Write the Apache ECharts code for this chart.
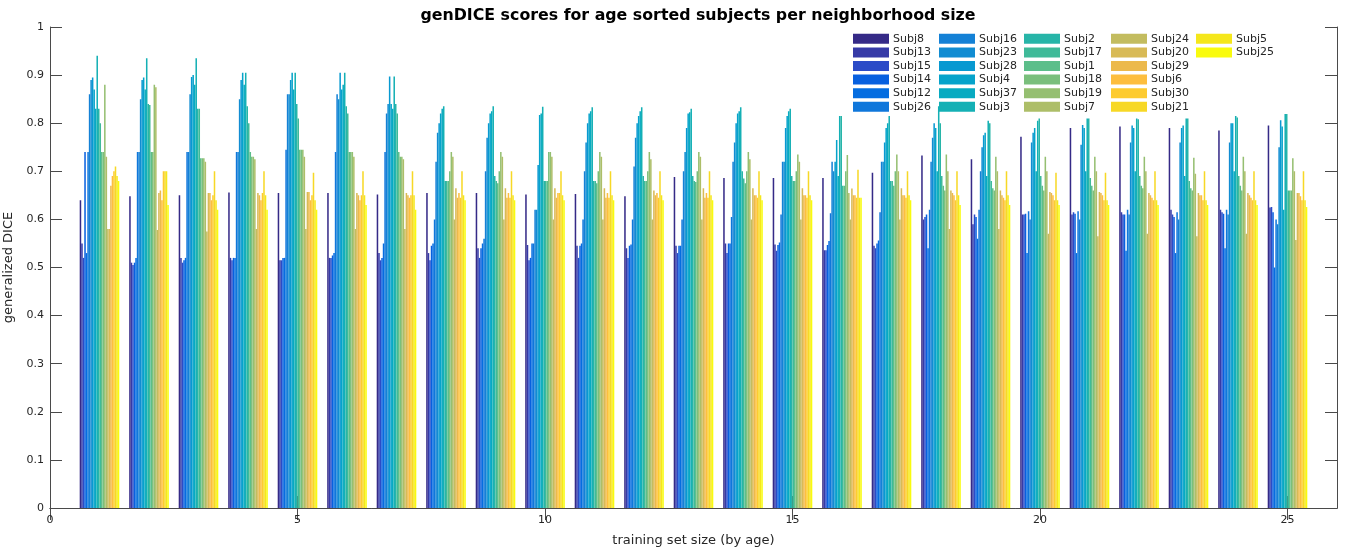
<!DOCTYPE html>
<html>
<head>
<meta charset="utf-8">
<script src="https://cdn.jsdelivr.net/npm/echarts@6/dist/echarts.min.js"></script>
<style>
html,body{margin:0;padding:0;background:#fff;}
#chart{width:1350px;height:553px;}
</style>
</head>
<body>
<div id="chart"></div>
<script>
// ---------------- DATA ----------------
const titleText = 'genDICE scores for age sorted subjects per neighborhood size';
const xName = 'training set size (by age)';
const yName = 'generalized DICE';
const sizes = [1,2,3,4,5,6,7,8,9,10,11,12,13,14,15,16,17,18,19,20,21,22,23,24,25];
const xTickLabels = ['0','5','10','15','20','25'];
const yTicks = [0,0.1,0.2,0.3,0.4,0.5,0.6,0.7,0.8,0.9,1];
const subjects = ['Subj8','Subj13','Subj15','Subj14','Subj12','Subj26','Subj16','Subj23','Subj28','Subj4','Subj37','Subj3','Subj2','Subj17','Subj1','Subj18','Subj19','Subj7','Subj24','Subj20','Subj29','Subj6','Subj30','Subj21','Subj5','Subj25'];

const subj8  = [0.640,0.648,0.650,0.656,0.655,0.655,0.652,0.655,0.655,0.652,0.653,0.648,0.688,0.686,0.686,0.686,0.697,0.733,0.725,0.772,0.790,0.793,0.790,0.785,0.795];
const subj13 = [0.550,0.510,0.520,0.520,0.515,0.520,0.530,0.530,0.540,0.547,0.545,0.540,0.545,0.550,0.548,0.536,0.545,0.600,0.590,0.610,0.610,0.615,0.620,0.620,0.625];
const subj15 = [0.520,0.505,0.510,0.515,0.515,0.520,0.515,0.515,0.520,0.515,0.520,0.520,0.530,0.530,0.535,0.536,0.540,0.605,0.610,0.610,0.615,0.610,0.610,0.615,0.626];
const subj14 = [0.740,0.510,0.515,0.520,0.520,0.525,0.520,0.545,0.540,0.520,0.545,0.545,0.545,0.550,0.547,0.547,0.550,0.610,0.605,0.612,0.612,0.610,0.605,0.612,0.615];
const subj12 = [0.530,0.520,0.520,0.520,0.520,0.530,0.550,0.550,0.550,0.550,0.550,0.548,0.545,0.550,0.552,0.555,0.556,0.540,0.560,0.530,0.530,0.535,0.530,0.540,0.500];
const subj26 = [0.740,0.740,0.740,0.740,0.745,0.740,0.740,0.600,0.560,0.550,0.600,0.600,0.600,0.605,0.610,0.613,0.615,0.620,0.620,0.617,0.617,0.620,0.615,0.620,0.600];
const subj16 = [0.860,0.740,0.740,0.740,0.860,0.860,0.820,0.720,0.700,0.620,0.700,0.710,0.700,0.720,0.720,0.720,0.720,0.720,0.700,0.600,0.600,0.610,0.600,0.610,0.590];
const subj23 = [0.890,0.850,0.860,0.850,0.860,0.850,0.840,0.780,0.770,0.620,0.760,0.770,0.740,0.760,0.720,0.700,0.720,0.770,0.750,0.760,0.755,0.760,0.760,0.760,0.750];
const subj28 = [0.895,0.890,0.896,0.890,0.890,0.905,0.897,0.800,0.800,0.713,0.800,0.800,0.790,0.800,0.790,0.720,0.760,0.800,0.775,0.780,0.796,0.795,0.790,0.800,0.806];
const subj4  = [0.870,0.895,0.900,0.905,0.905,0.870,0.840,0.820,0.820,0.817,0.820,0.815,0.820,0.820,0.815,0.765,0.790,0.790,0.780,0.790,0.790,0.790,0.795,0.800,0.793];
const subj37 = [0.830,0.870,0.880,0.880,0.870,0.880,0.830,0.830,0.825,0.820,0.825,0.825,0.823,0.825,0.825,0.690,0.800,0.700,0.690,0.700,0.700,0.700,0.690,0.700,0.620];
const subj3  = [0.940,0.935,0.935,0.905,0.905,0.905,0.897,0.835,0.835,0.834,0.833,0.833,0.830,0.833,0.830,0.815,0.815,0.835,0.805,0.805,0.810,0.810,0.810,0.815,0.819];
const subj2  = [0.830,0.840,0.830,0.835,0.840,0.835,0.840,0.680,0.690,0.680,0.680,0.690,0.690,0.700,0.690,0.815,0.680,0.800,0.800,0.810,0.810,0.808,0.810,0.812,0.819];
const subj17 = [0.800,0.838,0.830,0.800,0.810,0.820,0.820,0.680,0.680,0.680,0.680,0.680,0.680,0.685,0.680,0.670,0.680,0.690,0.680,0.690,0.686,0.690,0.680,0.690,0.660];
const subj1  = [0.740,0.740,0.727,0.740,0.745,0.740,0.740,0.680,0.675,0.680,0.675,0.680,0.678,0.675,0.680,0.670,0.670,0.670,0.665,0.670,0.670,0.670,0.665,0.670,0.660];
const subj18 = [0.740,0.740,0.727,0.730,0.745,0.740,0.730,0.700,0.700,0.740,0.700,0.700,0.700,0.700,0.700,0.700,0.700,0.660,0.660,0.660,0.660,0.665,0.660,0.660,0.660];
const subj19 = [0.880,0.880,0.727,0.730,0.745,0.740,0.730,0.740,0.740,0.740,0.740,0.740,0.740,0.740,0.735,0.734,0.735,0.735,0.730,0.730,0.730,0.730,0.728,0.730,0.727];
const subj7  = [0.730,0.875,0.720,0.725,0.730,0.730,0.725,0.730,0.730,0.730,0.730,0.725,0.730,0.725,0.720,0.655,0.700,0.700,0.700,0.700,0.700,0.700,0.695,0.700,0.700];
const subj24 = [0.580,0.578,0.575,0.580,0.580,0.580,0.580,0.600,0.600,0.600,0.600,0.600,0.600,0.600,0.600,0.600,0.600,0.580,0.580,0.570,0.565,0.570,0.565,0.570,0.557];
const subj20 = [0.580,0.655,0.655,0.655,0.657,0.655,0.655,0.665,0.665,0.665,0.665,0.660,0.665,0.665,0.665,0.664,0.665,0.660,0.660,0.657,0.657,0.655,0.655,0.655,0.655];
const subj29 = [0.670,0.660,0.655,0.650,0.657,0.650,0.650,0.645,0.645,0.645,0.645,0.650,0.645,0.650,0.650,0.650,0.650,0.655,0.650,0.655,0.655,0.650,0.650,0.650,0.655];
const subj6  = [0.690,0.640,0.640,0.640,0.640,0.640,0.645,0.655,0.655,0.655,0.655,0.655,0.655,0.650,0.650,0.650,0.650,0.650,0.645,0.650,0.650,0.645,0.650,0.645,0.648];
const subj30 = [0.700,0.700,0.650,0.655,0.650,0.650,0.650,0.645,0.645,0.655,0.645,0.645,0.645,0.645,0.645,0.645,0.645,0.640,0.640,0.640,0.640,0.640,0.640,0.640,0.640];
const subj21 = [0.710,0.700,0.700,0.700,0.697,0.700,0.700,0.700,0.700,0.700,0.700,0.700,0.700,0.700,0.700,0.703,0.700,0.700,0.700,0.697,0.697,0.700,0.700,0.700,0.700];
const subj5  = [0.690,0.700,0.640,0.650,0.640,0.650,0.650,0.650,0.650,0.650,0.650,0.650,0.650,0.650,0.650,0.645,0.650,0.650,0.650,0.640,0.640,0.640,0.640,0.640,0.640];
const subj25 = [0.680,0.630,0.620,0.620,0.620,0.630,0.620,0.640,0.640,0.640,0.640,0.640,0.640,0.640,0.640,0.645,0.640,0.630,0.630,0.630,0.630,0.630,0.630,0.630,0.626];

const seriesValues = [subj8,subj13,subj15,subj14,subj12,subj26,subj16,subj23,subj28,subj4,subj37,subj3,subj2,subj17,subj1,subj18,subj19,subj7,subj24,subj20,subj29,subj6,subj30,subj21,subj5,subj25];

// ---------------- STYLE ----------------
const parula64 = [
[0.2081,0.1663,0.5292],[0.2116,0.1898,0.5777],[0.2123,0.2138,0.6270],[0.2081,0.2386,0.6771],[0.1959,0.2645,0.7279],[0.1707,0.2919,0.7792],[0.1253,0.3242,0.8303],[0.0591,0.3598,0.8683],
[0.0117,0.3875,0.8820],[0.0060,0.4086,0.8828],[0.0165,0.4266,0.8786],[0.0329,0.4430,0.8720],[0.0498,0.4586,0.8641],[0.0629,0.4737,0.8554],[0.0723,0.4887,0.8467],[0.0779,0.5040,0.8384],
[0.0793,0.5200,0.8312],[0.0749,0.5375,0.8263],[0.0641,0.5570,0.8240],[0.0488,0.5772,0.8228],[0.0343,0.5966,0.8199],[0.0265,0.6137,0.8135],[0.0239,0.6287,0.8038],[0.0231,0.6418,0.7913],
[0.0228,0.6535,0.7768],[0.0267,0.6642,0.7607],[0.0384,0.6743,0.7436],[0.0590,0.6838,0.7254],[0.0843,0.6928,0.7062],[0.1133,0.7015,0.6859],[0.1453,0.7098,0.6646],[0.1801,0.7177,0.6424],
[0.2178,0.7250,0.6193],[0.2586,0.7317,0.5954],[0.3022,0.7376,0.5712],[0.3482,0.7424,0.5473],[0.3953,0.7459,0.5244],[0.4420,0.7481,0.5033],[0.4871,0.7491,0.4840],[0.5300,0.7491,0.4661],
[0.5709,0.7485,0.4494],[0.6099,0.7473,0.4337],[0.6473,0.7456,0.4188],[0.6834,0.7435,0.4044],[0.7184,0.7411,0.3905],[0.7525,0.7384,0.3768],[0.7858,0.7356,0.3633],[0.8185,0.7327,0.3498],
[0.8507,0.7299,0.3360],[0.8824,0.7274,0.3217],[0.9139,0.7258,0.3063],[0.9450,0.7261,0.2886],[0.9739,0.7314,0.2666],[0.9938,0.7455,0.2403],[0.9990,0.7653,0.2164],[0.9955,0.7861,0.1967],
[0.9880,0.8066,0.1794],[0.9789,0.8271,0.1633],[0.9697,0.8481,0.1475],[0.9626,0.8705,0.1309],[0.9589,0.8949,0.1132],[0.9598,0.9218,0.0948],[0.9661,0.9514,0.0755],[0.9763,0.9831,0.0538]];
function parula(t){
  const p = t*63, i = Math.min(62, Math.floor(p)), f = p - i;
  const c = [0,1,2].map(k => Math.round(255*(parula64[i][k]*(1-f) + parula64[i+1][k]*f)));
  return 'rgb(' + c.join(',') + ')';
}
const n = subjects.length;
const colors = subjects.map((s, k) => parula(k/(n-1)));

const FONT = 'DejaVu Sans';
const AXIS_COLOR = '#4a4a4a';
const TEXT_COLOR = '#262626';

// category axis spanning 0..26 (ticks at integers)
const axisCats = [];
for (let v = 0; v <= sizes[sizes.length-1] + 1; v++) axisCats.push(String(v));
const showTick = (idx, val) => xTickLabels.indexOf(String(val)) >= 0;

const series = subjects.map((name, k) => ({
  name: name,
  type: 'bar',
  barGap: '0%',
  barCategoryGap: '20%',
  itemStyle: { color: colors[k] },
  emphasis: { disabled: true },
  data: axisCats.map(c => {
    const idx = sizes.indexOf(Number(c));
    return idx >= 0 ? seriesValues[k][idx] : null;
  })
}));

// legend: 5 columns of 6
const legendCols = [];
const colLeft = [853, 939, 1024, 1111, 1196];
for (let c = 0; c < 5; c++) {
  legendCols.push({
    show: true,
    orient: 'vertical',
    left: colLeft[c],
    top: 32,
    padding: 0,
    itemGap: 0,
    itemWidth: 36,
    itemHeight: 10,
    icon: 'rect',
    selectedMode: false,
    data: subjects.slice(c*6, c*6+6),
    textStyle: { fontFamily: FONT, fontSize: 11, color: TEXT_COLOR, lineHeight: 13.6, padding: [0,0,0,-1] }
  });
}

const option = {
  animation: false,
  backgroundColor: '#ffffff',
  color: colors,
  title: {
    text: titleText,
    left: 693, top: 3, textAlign: 'center',
    textStyle: { fontFamily: FONT, fontSize: 15.8, fontWeight: 'bold', color: '#000' }
  },
  legend: legendCols,
  grid: { left: 50, top: 27, width: 1287, height: 481, containLabel: false, outerBoundsMode: 'none' },
  xAxis: [{
    type: 'category',
    data: axisCats,
    boundaryGap: false,
    position: 'bottom',
    name: xName,
    nameLocation: 'middle',
    nameGap: 26,
    nameTextStyle: { fontFamily: FONT, fontSize: 13, color: TEXT_COLOR },
    axisLine: { show: true, lineStyle: { color: AXIS_COLOR, width: 1 } },
    axisTick: { show: true, inside: true, length: 12, interval: showTick, lineStyle: { color: AXIS_COLOR } },
    axisLabel: { interval: showTick, margin: 7, fontFamily: FONT, fontSize: 11, color: TEXT_COLOR },
    splitLine: { show: false }
  }, {
    type: 'category',
    data: axisCats,
    boundaryGap: false,
    position: 'top',
    axisLine: { show: true, lineStyle: { color: AXIS_COLOR, width: 1 } },
    axisTick: { show: true, inside: true, length: 12, interval: showTick, lineStyle: { color: AXIS_COLOR } },
    axisLabel: { show: false },
    splitLine: { show: false }
  }],
  yAxis: [{
    type: 'value',
    min: yTicks[0], max: yTicks[yTicks.length-1], interval: 0.1,
    position: 'left',
    name: yName,
    nameLocation: 'middle',
    nameGap: 27,
    nameTextStyle: { fontFamily: FONT, fontSize: 13, color: TEXT_COLOR },
    axisLine: { show: true, lineStyle: { color: AXIS_COLOR, width: 1 } },
    axisTick: { show: true, inside: true, length: 12, lineStyle: { color: AXIS_COLOR } },
    axisLabel: { margin: 6, fontFamily: FONT, fontSize: 11, color: TEXT_COLOR,
      formatter: v => String(Math.round(v*10)/10) },
    splitLine: { show: false }
  }, {
    type: 'value',
    min: yTicks[0], max: yTicks[yTicks.length-1], interval: 0.1,
    position: 'right',
    axisLine: { show: true, lineStyle: { color: AXIS_COLOR, width: 1 } },
    axisTick: { show: true, inside: true, length: 12, lineStyle: { color: AXIS_COLOR } },
    axisLabel: { show: false },
    splitLine: { show: false }
  }],
  series: series
};

const chart = echarts.init(document.getElementById('chart'), null, { renderer: 'canvas' });
chart.setOption(option);
</script>
</body>
</html>
